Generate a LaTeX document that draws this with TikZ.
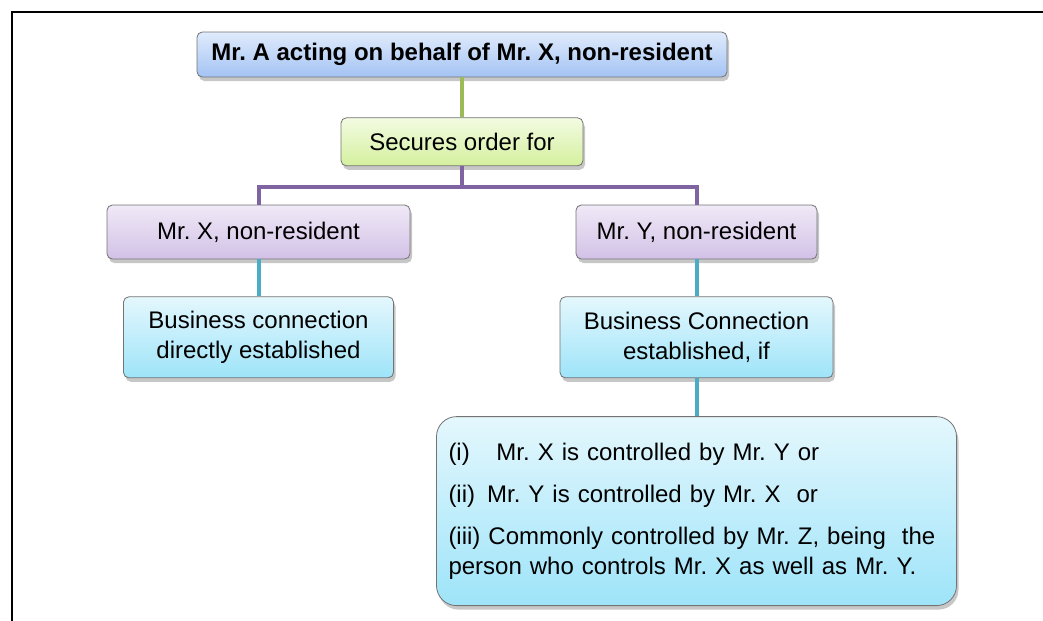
\documentclass[tikz,border=0pt]{standalone}
\usepackage{fontspec}
\setmainfont{Liberation Sans}
\usetikzlibrary{positioning,shadows}
\frenchspacing

\definecolor{headtop}{RGB}{224,235,252}
\definecolor{headbot}{RGB}{163,195,243}
\definecolor{ordertop}{RGB}{243,251,226}
\definecolor{orderbot}{RGB}{212,240,158}
\definecolor{partytop}{RGB}{240,233,247}
\definecolor{partybot}{RGB}{210,193,230}
\definecolor{linktop}{RGB}{228,247,253}
\definecolor{linkbot}{RGB}{158,228,249}
\definecolor{greenline}{RGB}{155,187,89}
\definecolor{purpleline}{RGB}{128,100,162}
\definecolor{cyanline}{RGB}{75,172,198}

\tikzset{
  chartbox/.style={draw=black!55, line width=0.6pt, rounded corners=4pt, align=center, inner sep=0pt,
    font=\fontsize{18pt}{22.5pt}\selectfont,
    drop shadow={shadow xshift=1.5pt, shadow yshift=-3pt, fill=black, opacity=0.22}},
  headfill/.style={top color=headtop, bottom color=headbot},
  orderfill/.style={top color=ordertop, bottom color=orderbot},
  partyfill/.style={top color=partytop, bottom color=partybot},
  linkfill/.style={top color=linktop, bottom color=linkbot},
  joint/.style={line width=3pt}
}

\begin{document}
\begin{tikzpicture}[x=0.75pt, y=-0.75pt]
  \useasboundingbox (0,0) rectangle (1043,621);
  \draw[line width=1.5pt] (12,621) -- (12,12) -- (1043,12);

  \node[chartbox, headfill, minimum width=397.5pt, minimum height=33.75pt,
        font=\bfseries\fontsize{18pt}{22.5pt}\selectfont] (agent) at (462,54.5) {Mr. A acting on behalf of Mr. X, non-resident};
  \node[chartbox, orderfill, minimum width=181.5pt, minimum height=36pt] (order) [below=30pt of agent] {Secures order for};
  \node[chartbox, partyfill, minimum width=227.25pt, minimum height=40.5pt] (partyX) at (258.5,232) {Mr. X, non-resident};
  \node[chartbox, partyfill, minimum width=180.75pt, minimum height=40.5pt] (partyY) at (696.5,232) {Mr. Y, non-resident};
  \node[chartbox, linkfill, minimum width=202.5pt, minimum height=60.75pt] (linkX) [below=27.75pt of partyX] {Business connection\\directly established};
  \node[chartbox, linkfill, minimum width=204.75pt, minimum height=60.75pt] (linkY) [below=27.75pt of partyY] {Business Connection\\established, if};
  \node[chartbox, linkfill, rounded corners=15pt, text width=372pt, inner xsep=9pt, minimum height=141.75pt, align=left] (cond) [below=28.5pt of linkY]
    {(i)\hspace{20pt}Mr. X is controlled by Mr. Y or\\[9pt]
     (ii)\hspace{9pt}Mr. Y is controlled by Mr. X\ \ or\\[9pt]
     (iii) Commonly controlled by Mr. Z, being\ \ the\\
     person who controls Mr. X as well as Mr. Y.};

  \draw[joint, greenline] (agent) -- (order);
  \draw[joint, purpleline] (order.south) -- ++(0,-15.75pt) coordinate (fork) -| (partyX.north);
  \draw[joint, purpleline] (fork) -| (partyY.north);
  \draw[joint, cyanline] (partyX) -- (linkX);
  \draw[joint, cyanline] (partyY) -- (linkY);
  \draw[joint, cyanline] (linkY) -- (cond);
\end{tikzpicture}
\end{document}
